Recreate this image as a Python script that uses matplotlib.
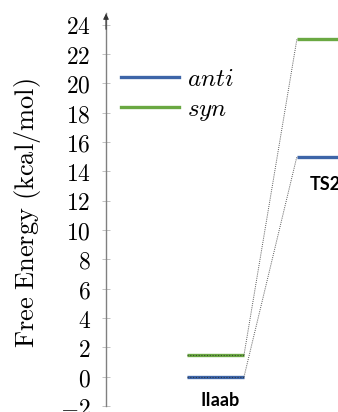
import matplotlib
matplotlib.use("Agg")
import matplotlib.pyplot as plt
from matplotlib.lines import Line2D

plt.rcParams['mathtext.fontset'] = 'cm'

states = ["IIaab", "TS2"]
state_x = [0, 1]
anti = [0.0, 15.0]
syn = [1.5, 23.0]
yticks = list(range(-2, 25, 2))

blue = "#3d65a8"
green = "#6aa842"
half = 0.26

fig = plt.figure(figsize=(3.38, 4.12), dpi=100)
ax = fig.add_axes([106 / 338, 6 / 412, 232 / 338, 393 / 412])
ax.set_xlim(-0.995, 1.114)
ax.set_ylim(-2, 24.8)

for series, col in [(anti, blue), (syn, green)]:
    for i, (x, e) in enumerate(zip(state_x, series)):
        ax.plot([x - half, x + half], [e, e], color=col, lw=2.4, solid_capstyle="butt")
        if i == 0:
            # dotted overlay on the first state
            ax.plot([x - half, x + half], [e, e], color="#222222", lw=0.8, ls=(0, (1, 1.5)), alpha=0.7)
    # connector
    ax.plot([state_x[0] + half, state_x[1] - half], [series[0], series[1]],
            color="#555555", lw=0.7, ls=(0, (1, 1.2)))

ax.text(state_x[0] + 0.04, -1.6, states[0], ha="center", va="center", fontsize=13,
        fontweight="bold", family="Lato")
ax.text(state_x[1] - 0.14, 13.1, states[1], ha="left", va="center", fontsize=13,
        fontweight="bold", family="Lato")

# axis styling
for s in ["top", "right", "bottom"]:
    ax.spines[s].set_visible(False)
ax.spines["left"].set_color("#808080")
ax.spines["left"].set_linewidth(1.0)
ax.set_xticks([])
ax.set_yticks(yticks)
ax.set_yticklabels(["$%d$" % t for t in yticks], fontsize=17)
ax.tick_params(axis="y", direction="inout", length=6, width=0.5, color="#aaaaaa", pad=8)
ax.annotate("", xy=(-0.995, 24.95), xytext=(-0.995, 23.5), xycoords="data",
            arrowprops=dict(arrowstyle="-|>", color="#333333", lw=0.8, mutation_scale=8),
            annotation_clip=False)
ax.set_ylabel(r"$\mathrm{Free\ Energy\ (kcal/mol)}$", fontsize=19)
ax.yaxis.set_label_coords(-0.27, 0.49)

handles = [Line2D([], [], color=blue, lw=2.4), Line2D([], [], color=green, lw=2.4)]
ax.legend(handles, ["$anti$", "$syn$"], loc="upper left", bbox_to_anchor=(0.065, 0.862),
          frameon=False, fontsize=18, handlelength=2.3, handletextpad=0.35,
          labelspacing=0.22, borderpad=0, borderaxespad=0)

fig.savefig("out.png", dpi=100)
